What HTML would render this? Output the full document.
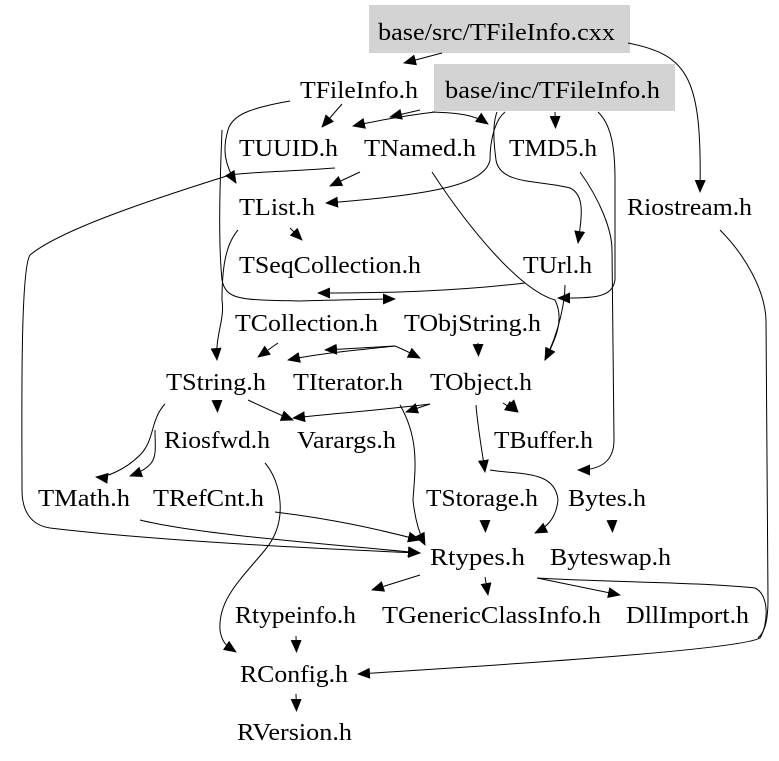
<!DOCTYPE html>
<html><head><meta charset="utf-8"><style>
html,body{margin:0;padding:0;background:#fff;}
svg{display:block;}
text{font-family:"Liberation Serif",serif;font-size:24px;fill:#000;}
</style></head><body>
<svg width="779" height="761" viewBox="0 0 779 761" xmlns="http://www.w3.org/2000/svg">
<defs>
<marker id="a" markerUnits="userSpaceOnUse" markerWidth="13" markerHeight="11" refX="12" refY="5.5" orient="auto">
<polygon points="0,0 13,5.5 0,11" fill="#000"/>
</marker>
</defs>
<rect x="369" y="5" width="261" height="48" fill="#d3d3d3"/>
<rect x="434" y="64" width="241" height="47" fill="#d3d3d3"/>
<g fill="none" stroke="#000" stroke-width="1" marker-end="url(#a)">
<path d="M442,53 L404,63"/>
<path d="M628,43 C690,55 702,80 700,192"/>
<path d="M342,104 L322,127"/>
<path d="M290,101 C250,108 232,115 228,130 C222,150 225,165 236,183"/>
<path d="M435,112 C410,115 380,120 353,126"/>
<path d="M420,110 L390,117"/>
<path d="M432,112 C460,113 475,115 488,124"/>
<path d="M555,112 L555.5,128"/>
<path d="M505,112 C495,120 490,140 490,160 C485,185 430,195 326,203"/>
<path d="M497,112 C492,125 494,145 496,160 C500,185 540,180 570,188 C585,195 582,215 578,243"/>
<path d="M598,112 C612,125 615,150 615,180 L615,280 C612,298 595,298 558,298"/>
<path d="M432,172 C470,230 520,290 555,300 C565,320 555,340 545,360"/>
<path d="M360,172 L330,186"/>
<path d="M335,168 C280,172 250,172 230,175 C150,200 60,230 30,255 C20,270 22,420 22,490 C22,510 30,525 50,528 C150,540 300,548 420,553"/>
<path d="M222,130 C220,180 218,240 222,280 C226,300 240,300 300,301 C340,300 370,299 395,299"/>
<path d="M290,228 L302,240"/>
<path d="M238,230 C225,245 222,270 222,300 C225,320 215,335 217,360"/>
<path d="M525,283 C450,292 380,293 318,293"/>
<path d="M565,285 C565,300 560,330 545,360"/>
<path d="M278,343 L258,357"/>
<path d="M395,346 C360,350 320,353 288,360"/>
<path d="M395,346 L325,350"/>
<path d="M395,346 C405,350 412,354 420,358"/>
<path d="M478,343 L478.5,356"/>
<path d="M217,400 L217.5,412"/>
<path d="M248,400 C265,408 280,415 293,420"/>
<path d="M430,404 C380,410 330,414 293,418"/>
<path d="M430,404 L406,412"/>
<path d="M400,405 C420,440 415,470 413,500 C415,520 420,535 425,545"/>
<path d="M510,403 L518,412"/>
<path d="M503,403 L517,412"/>
<path d="M476,405 C478,430 482,450 485,472"/>
<path d="M490,470 C520,475 555,470 558,500 C556,520 545,528 535,533"/>
<path d="M580,172 C600,200 612,230 612,250 L614,440 C614,462 600,470 578,470"/>
<path d="M165,404 C150,420 155,440 140,455 C125,470 105,478 96,477"/>
<path d="M155,430 C155,455 160,465 130,476"/>
<path d="M140,520 C200,535 340,545 420,553"/>
<path d="M275,512 C340,520 380,530 420,540"/>
<path d="M265,463 C280,480 290,520 265,550 C240,580 218,600 220,630 C222,645 230,648 236,652"/>
<path d="M485,520 L485.5,532"/>
<path d="M612,520 L612.5,532"/>
<path d="M420,575 L372,590"/>
<path d="M485,577 L488,595"/>
<path d="M537,578 L620,595"/>
<path d="M537,578 C600,582 700,582 755,588 C770,595 768,625 760,638 C740,650 500,665 358,674"/>
<path d="M296,636 L296.5,652"/>
<path d="M296,694 L296.5,711"/>
</g>
<path d="M720,230 C745,255 765,290 766,320 L768,600 C768,620 765,632 758,638" fill="none" stroke="#000" stroke-width="1"/>
<g>
<text x="378" y="40" textLength="237" lengthAdjust="spacingAndGlyphs">base/src/TFileInfo.cxx</text>
<text x="300" y="98" textLength="118" lengthAdjust="spacingAndGlyphs">TFileInfo.h</text>
<text x="445" y="98" textLength="215" lengthAdjust="spacingAndGlyphs">base/inc/TFileInfo.h</text>
<text x="239" y="156" textLength="99" lengthAdjust="spacingAndGlyphs">TUUID.h</text>
<text x="364" y="156" textLength="112" lengthAdjust="spacingAndGlyphs">TNamed.h</text>
<text x="509" y="156" textLength="88" lengthAdjust="spacingAndGlyphs">TMD5.h</text>
<text x="627" y="215" textLength="125" lengthAdjust="spacingAndGlyphs">Riostream.h</text>
<text x="239" y="215" textLength="76" lengthAdjust="spacingAndGlyphs">TList.h</text>
<text x="239" y="273" textLength="182" lengthAdjust="spacingAndGlyphs">TSeqCollection.h</text>
<text x="523" y="273" textLength="69" lengthAdjust="spacingAndGlyphs">TUrl.h</text>
<text x="235" y="331" textLength="143" lengthAdjust="spacingAndGlyphs">TCollection.h</text>
<text x="404" y="331" textLength="137" lengthAdjust="spacingAndGlyphs">TObjString.h</text>
<text x="166" y="390" textLength="100" lengthAdjust="spacingAndGlyphs">TString.h</text>
<text x="293" y="390" textLength="110" lengthAdjust="spacingAndGlyphs">TIterator.h</text>
<text x="430" y="390" textLength="102" lengthAdjust="spacingAndGlyphs">TObject.h</text>
<text x="164" y="448" textLength="106" lengthAdjust="spacingAndGlyphs">Riosfwd.h</text>
<text x="297" y="448" textLength="99" lengthAdjust="spacingAndGlyphs">Varargs.h</text>
<text x="494" y="448" textLength="99" lengthAdjust="spacingAndGlyphs">TBuffer.h</text>
<text x="38" y="506" textLength="92" lengthAdjust="spacingAndGlyphs">TMath.h</text>
<text x="153" y="506" textLength="111" lengthAdjust="spacingAndGlyphs">TRefCnt.h</text>
<text x="426" y="506" textLength="112" lengthAdjust="spacingAndGlyphs">TStorage.h</text>
<text x="568" y="506" textLength="78" lengthAdjust="spacingAndGlyphs">Bytes.h</text>
<text x="430" y="565" textLength="95" lengthAdjust="spacingAndGlyphs">Rtypes.h</text>
<text x="550" y="565" textLength="121" lengthAdjust="spacingAndGlyphs">Byteswap.h</text>
<text x="235" y="623" textLength="121" lengthAdjust="spacingAndGlyphs">Rtypeinfo.h</text>
<text x="382" y="623" textLength="219" lengthAdjust="spacingAndGlyphs">TGenericClassInfo.h</text>
<text x="626" y="623" textLength="123" lengthAdjust="spacingAndGlyphs">DllImport.h</text>
<text x="240" y="682" textLength="108" lengthAdjust="spacingAndGlyphs">RConfig.h</text>
<text x="237" y="740" textLength="115" lengthAdjust="spacingAndGlyphs">RVersion.h</text>
</g>
</svg>
</body></html>
